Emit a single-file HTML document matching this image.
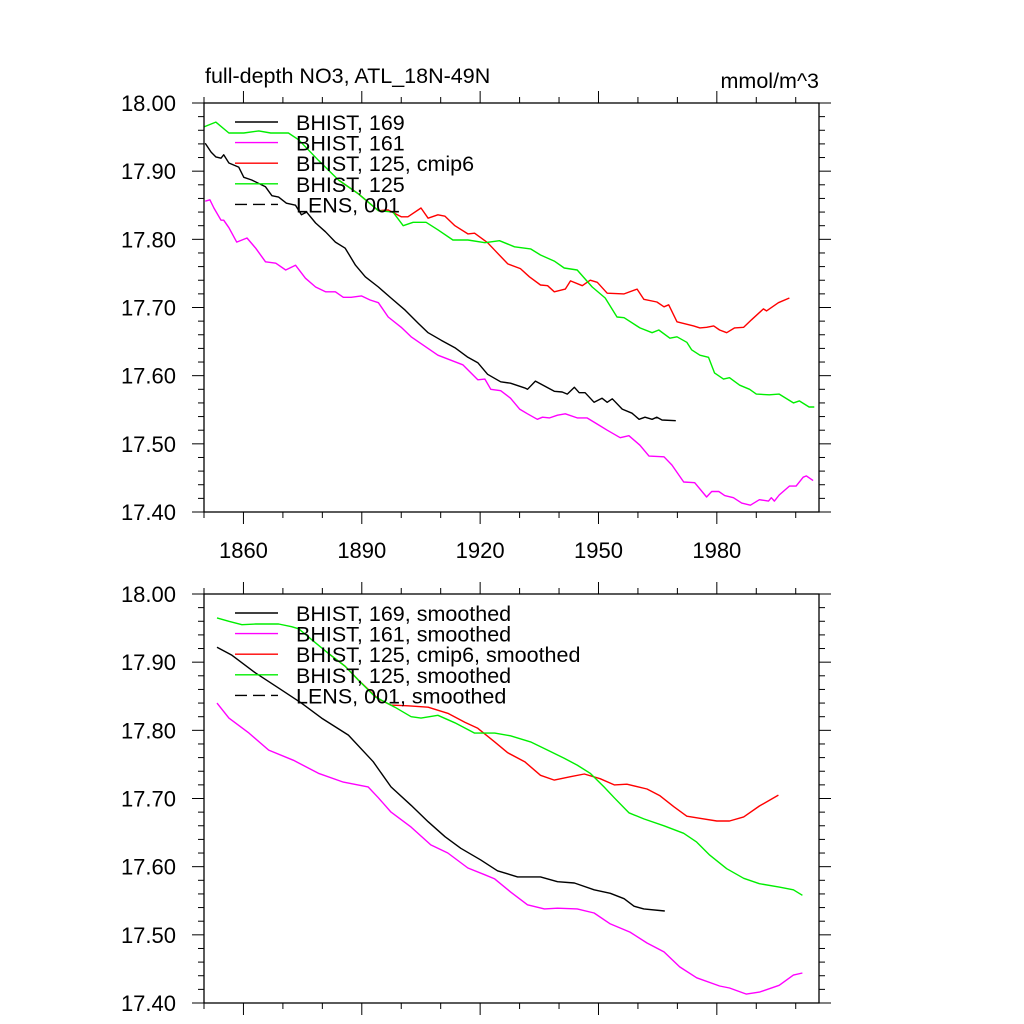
<!DOCTYPE html>
<html><head><meta charset="utf-8"><style>
html,body{margin:0;padding:0;background:#fff;}
svg{display:block;font-family:"Liberation Sans",Arial,sans-serif;}
</style></head><body>
<svg id="chart" width="1024" height="1024" viewBox="0 0 1024 1024"></svg>
<script>
// ---- data: top panel (raw) ----
const topGreenYears=[1850.0,1853.0,1856.3,1860.1,1863.9,1866.9,1871.4,1874.0,1879.0,1884.1,1889.1,1894.2,1897.9,1900.5,1903.0,1906.3,1909.3,1913.1,1916.9,1921.2,1924.9,1928.7,1932.8,1935.3,1938.8,1941.3,1944.6,1948.4,1951.7,1954.7,1956.5,1960.5,1963.6,1965.3,1968.1,1969.9,1972.4,1973.6,1975.7,1977.9,1979.4,1981.7,1983.2,1985.8,1988.3,1990.0,1993.3,1995.8,1999.4,2000.9,2003.4,2004.7];
const topGreenVals=[17.965,17.972,17.956,17.956,17.959,17.956,17.956,17.946,17.916,17.887,17.867,17.842,17.840,17.820,17.825,17.825,17.814,17.799,17.799,17.795,17.798,17.789,17.786,17.777,17.768,17.758,17.755,17.730,17.714,17.686,17.685,17.670,17.663,17.667,17.655,17.657,17.649,17.638,17.630,17.627,17.604,17.595,17.597,17.586,17.580,17.573,17.572,17.573,17.560,17.563,17.554,17.554];
const topRedYears=[1884.1,1889.1,1894.2,1896.7,1900.0,1901.7,1905.0,1906.8,1909.3,1911.1,1913.6,1916.9,1918.6,1921.9,1923.7,1927.0,1930.2,1932.5,1935.3,1937.1,1938.8,1941.6,1942.9,1945.9,1947.9,1949.7,1952.2,1956.5,1959.8,1961.5,1964.8,1966.6,1967.8,1969.9,1974.1,1975.7,1977.4,1979.2,1980.7,1982.5,1984.5,1986.8,1988.8,1991.8,1992.6,1995.6,1998.4];
const topRedVals=[17.887,17.867,17.842,17.843,17.833,17.833,17.846,17.831,17.836,17.834,17.820,17.808,17.809,17.795,17.784,17.764,17.757,17.745,17.733,17.732,17.723,17.727,17.739,17.732,17.740,17.737,17.721,17.720,17.727,17.712,17.708,17.701,17.704,17.679,17.673,17.670,17.671,17.673,17.667,17.663,17.670,17.671,17.682,17.698,17.695,17.707,17.714];
const topBlackYears=[1850.3,1851.8,1853.0,1854.3,1855.0,1856.3,1858.8,1860.1,1862.1,1865.6,1867.2,1868.9,1870.9,1873.2,1874.7,1876.0,1878.3,1880.8,1883.3,1885.8,1888.4,1890.9,1894.2,1897.4,1901.0,1904.3,1906.8,1910.1,1913.6,1916.9,1919.4,1921.9,1925.2,1927.7,1931.3,1932.0,1934.0,1938.8,1940.8,1942.1,1943.9,1945.1,1946.6,1948.9,1950.9,1952.2,1953.5,1956.0,1958.5,1960.3,1961.8,1963.6,1964.8,1966.1,1969.6];
const topBlackVals=[17.941,17.928,17.921,17.919,17.924,17.912,17.906,17.891,17.887,17.877,17.864,17.862,17.853,17.850,17.836,17.840,17.824,17.811,17.796,17.787,17.762,17.745,17.730,17.714,17.696,17.677,17.663,17.652,17.641,17.627,17.619,17.602,17.591,17.589,17.582,17.580,17.592,17.577,17.576,17.573,17.583,17.575,17.575,17.561,17.567,17.561,17.566,17.551,17.545,17.536,17.539,17.536,17.539,17.535,17.534];
const topMagYears=[1850.3,1851.5,1852.5,1854.3,1855.0,1856.3,1858.3,1860.9,1863.1,1865.6,1868.2,1870.7,1873.2,1875.7,1878.3,1880.8,1883.3,1885.3,1887.3,1889.9,1892.1,1894.2,1896.7,1900.0,1902.5,1909.3,1915.6,1919.4,1921.2,1922.7,1925.2,1927.7,1930.0,1932.0,1934.5,1935.8,1937.6,1939.6,1941.6,1944.6,1947.1,1949.7,1952.2,1955.5,1957.7,1960.5,1962.8,1966.6,1968.6,1971.6,1974.4,1977.4,1978.7,1980.5,1982.0,1984.2,1986.3,1988.5,1990.8,1993.1,1993.8,1994.6,1995.8,1998.4,2000.1,2001.9,2002.7,2004.4];
const topMagVals=[17.856,17.858,17.846,17.828,17.828,17.817,17.796,17.802,17.787,17.767,17.765,17.755,17.762,17.743,17.730,17.723,17.723,17.715,17.715,17.717,17.711,17.707,17.686,17.671,17.657,17.630,17.616,17.594,17.595,17.580,17.578,17.567,17.551,17.544,17.536,17.539,17.538,17.542,17.544,17.538,17.538,17.529,17.520,17.509,17.512,17.498,17.482,17.481,17.469,17.444,17.443,17.422,17.430,17.430,17.424,17.421,17.413,17.410,17.418,17.416,17.421,17.416,17.425,17.438,17.438,17.451,17.453,17.446];
// ---- data: bottom panel (smoothed) ----
const botGreenYears=[1853.3,1856.3,1859.6,1863.1,1868.9,1872.2,1874.0,1877.3,1881.5,1885.8,1889.1,1893.4,1898.4,1902.5,1905.0,1909.3,1913.6,1918.6,1923.7,1927.7,1932.8,1937.1,1941.3,1944.6,1947.9,1951.4,1954.0,1957.7,1961.5,1966.6,1971.6,1974.9,1978.2,1982.5,1986.8,1990.8,1995.8,1999.4,2001.7];
const botGreenVals=[17.965,17.960,17.955,17.956,17.956,17.952,17.949,17.933,17.913,17.894,17.874,17.849,17.834,17.820,17.818,17.822,17.811,17.796,17.796,17.792,17.783,17.771,17.759,17.749,17.737,17.717,17.701,17.679,17.670,17.660,17.649,17.636,17.617,17.597,17.583,17.575,17.570,17.566,17.558];
const botRedYears=[1881.5,1885.8,1889.1,1894.2,1897.4,1901.7,1906.8,1911.8,1916.1,1919.4,1923.7,1927.0,1931.3,1935.3,1938.8,1942.9,1946.4,1950.4,1954.0,1957.2,1962.3,1965.6,1969.1,1972.4,1975.7,1980.0,1983.2,1986.8,1990.8,1995.6];
const botRedVals=[17.913,17.894,17.874,17.846,17.837,17.836,17.834,17.825,17.812,17.803,17.783,17.767,17.754,17.734,17.727,17.732,17.736,17.729,17.720,17.721,17.714,17.704,17.688,17.674,17.671,17.667,17.667,17.673,17.689,17.705];
const botBlackYears=[1853.3,1857.1,1863.1,1869.7,1874.7,1879.8,1886.6,1892.9,1897.4,1902.5,1906.8,1911.1,1915.1,1920.1,1924.4,1929.5,1935.3,1939.6,1943.9,1948.9,1953.0,1956.5,1959.0,1961.5,1966.8];
const botBlackVals=[17.922,17.910,17.884,17.859,17.840,17.818,17.793,17.754,17.717,17.690,17.666,17.644,17.627,17.610,17.594,17.585,17.585,17.578,17.576,17.566,17.561,17.553,17.542,17.538,17.535];
const botMagYears=[1853.3,1856.3,1861.4,1866.4,1872.7,1879.0,1885.3,1891.6,1894.2,1897.4,1902.5,1907.5,1911.8,1916.9,1921.2,1923.7,1927.7,1932.0,1936.3,1939.6,1944.6,1948.9,1953.0,1958.0,1962.3,1966.6,1970.6,1974.9,1980.7,1983.2,1987.5,1990.8,1995.8,1999.4,2001.7];
const botMagVals=[17.840,17.818,17.796,17.771,17.756,17.737,17.724,17.717,17.701,17.680,17.658,17.632,17.620,17.598,17.588,17.582,17.563,17.544,17.538,17.539,17.538,17.532,17.516,17.504,17.488,17.475,17.453,17.437,17.425,17.422,17.413,17.416,17.426,17.441,17.444];
const xTickYears=[1860,1890,1920,1950,1980];
const xTickLabels=["1860","1890","1920","1950","1980"];
const yTickVals=[17.4,17.5,17.6,17.7,17.8,17.9,18.0];
const yTickLabels=["17.40","17.50","17.60","17.70","17.80","17.90","18.00"];
const topLegend=["BHIST, 169","BHIST, 161","BHIST, 125, cmip6","BHIST, 125","LENS, 001"];
const botLegend=["BHIST, 169, smoothed","BHIST, 161, smoothed","BHIST, 125, cmip6, smoothed","BHIST, 125, smoothed","LENS, 001, smoothed"];

const NS="http://www.w3.org/2000/svg";
const svg=document.getElementById('chart');
const X0=204,X1=819,XMIN=1850,XMAX=2005.9,YMIN=17.4,YMAX=18.0;
function sx(yr){return X0+(yr-XMIN)/(XMAX-XMIN)*(X1-X0);}
function mk(tag,attrs,parent){const e=document.createElementNS(NS,tag);for(const k in attrs)e.setAttribute(k,attrs[k]);(parent||svg).appendChild(e);return e;}

function panel(top,bottom,name,showXLabels,series,legend,legY){
  const g=mk('g',{});
  
  
  const sy=v=>bottom-(v-YMIN)/(YMAX-YMIN)*(bottom-top);
  series.forEach(s=>{
    const d=s.years.map((yr,i)=>(i?'L':'M')+sx(yr).toFixed(1)+','+sy(s.vals[i]).toFixed(1)).join(' ');
    const p=mk('path',{d:d,fill:'none',stroke:s.color,'stroke-width':1.4,'stroke-linejoin':'round'},g);
    
    
  });
  const f=mk('rect',{x:X0,y:top,width:X1-X0,height:bottom-top,fill:'none',stroke:'#000','stroke-width':1.3},g);
  
  
  for(let yr=1850;yr<=2000;yr+=10){
    const x=sx(yr),major=(yr-1860)%30===0,len=major?12:6;
    mk('line',{x1:x,x2:x,y1:bottom,y2:bottom+len,stroke:'#000','stroke-width':1},g);
    mk('line',{x1:x,x2:x,y1:top,y2:top-len,stroke:'#000','stroke-width':1},g);
  }
  if(showXLabels){
    xTickYears.forEach((yr,i)=>{
      const t=mk('text',{x:sx(yr),y:bottom+46,'text-anchor':'middle','font-size':22},g);
      t.textContent=xTickLabels[i];
      
      
    });
  }
  for(let k=0;k<=30;k++){
    const v=YMIN+k*0.02,y=sy(v),major=k%5===0,len=major?12:6;
    mk('line',{x1:X0,x2:X0-len,y1:y,y2:y,stroke:'#000','stroke-width':1},g);
    mk('line',{x1:X1,x2:X1+len,y1:y,y2:y,stroke:'#000','stroke-width':1},g);
  }
  yTickVals.forEach((v,i)=>{
    const t=mk('text',{x:176,y:sy(v)+8,'text-anchor':'end','font-size':22},g);
    t.textContent=yTickLabels[i];
    
    
  });
  const cols=['#000','#ff00ff','#ff0000','#00ee00','#000'];
  legend.forEach((lab,i)=>{
    const y=legY+i*20.6;
    const ln=mk('line',{x1:235,x2:278,y1:y,y2:y,stroke:cols[i],'stroke-width':1.4,'stroke-dasharray':i===4?'12,6':'none'},g);
    
    
    const t=mk('text',{x:296,y:y+8,'font-size':21.5},g);
    t.textContent=lab;
    
    
  });
}

panel(103,512,'top-panel',true,[
  {years:topRedYears,vals:topRedVals,color:'#ff0000',name:'bhist-125-cmip6-line'},
  {years:topGreenYears,vals:topGreenVals,color:'#00ee00',name:'bhist-125-line'},
  {years:topMagYears,vals:topMagVals,color:'#ff00ff',name:'bhist-161-line'},
  {years:topBlackYears,vals:topBlackVals,color:'#000',name:'bhist-169-line'}
],topLegend,122);
panel(594,1003,'bottom-panel',false,[
  {years:botRedYears,vals:botRedVals,color:'#ff0000',name:'bhist-125-cmip6-smoothed-line'},
  {years:botGreenYears,vals:botGreenVals,color:'#00ee00',name:'bhist-125-smoothed-line'},
  {years:botMagYears,vals:botMagVals,color:'#ff00ff',name:'bhist-161-smoothed-line'},
  {years:botBlackYears,vals:botBlackVals,color:'#000',name:'bhist-169-smoothed-line'}
],botLegend,613);

const title=mk('text',{x:205,y:83,'font-size':21.5});
title.textContent='full-depth NO3, ATL_18N-49N';


const unit=mk('text',{x:819,y:88,'font-size':21.5,'text-anchor':'end'});
unit.textContent='mmol/m^3';


</script>
</body></html>
